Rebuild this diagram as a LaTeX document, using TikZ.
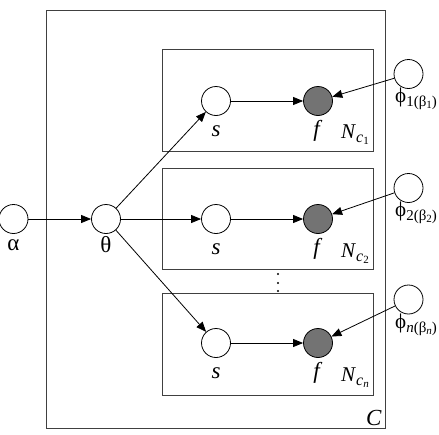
\documentclass[tikz,border=0pt]{standalone}
\usepackage{fontspec}
\setmainfont{Liberation Serif}
\usetikzlibrary{arrows.meta}
\newcommand\phlab[2]{ϕ\raisebox{-0.4ex}{\fontsize{15}{15}\selectfont #1(β\raisebox{-0.3ex}{\fontsize{11}{11}\selectfont #2})}}
\newcommand\nclab[1]{\textit{N}\raisebox{-0.4ex}{\fontsize{16}{16}\selectfont\textit{c}\raisebox{-0.3ex}{\fontsize{11}{11}\selectfont #1}}}
\begin{document}
\begin{tikzpicture}[x=1pt,y=-1pt,
  var/.style={circle,draw,line width=0.8pt,minimum size=29pt,inner sep=0pt,fill=white},
  obs/.style={var,fill=black!55},
  plate/.style={draw=black!75,line width=0.9pt},
  edge/.style={line width=0.8pt,-{Triangle[length=10pt,width=8pt]}},
  lab/.style={inner sep=0pt,font=\fontsize{23}{23}\selectfont},
  slab/.style={inner sep=0pt,font=\fontsize{21}{21}\selectfont}]
\useasboundingbox (0,0) rectangle (439,434);
% plates
\draw[plate] (46.5,10) rectangle (385.5,428);
\draw[plate] (162,49) rectangle (373,151);
\draw[plate] (162,168) rectangle (373,269);
\draw[plate] (162,293) rectangle (373,395);
% nodes
\node[var] (alpha) at (13.5,219) {};
\node[var] (theta) at (106,219) {};
\node[var] (s1) at (216,101) {};
\node[var] (s2) at (216,219) {};
\node[var] (s3) at (216,343) {};
\node[obs] (f1) at (318,101) {};
\node[obs] (f2) at (318,219) {};
\node[obs] (f3) at (318,343) {};
\node[var] (p1) at (408.5,74) {};
\node[var] (p2) at (408.5,188) {};
\node[var] (p3) at (408.5,299.5) {};
% labels
\node[lab] (la) at (13.5,245) {α};
\node[lab] (lt) at (106,245) {θ};
\node[lab] (ls1) at (216,131) {\textit{s}};
\node[lab] (ls2) at (216,249) {\textit{s}};
\node[lab] (ls3) at (216,373) {\textit{s}};
\node[lab] (lf1) at (318,131) {\textit{f}};
\node[lab] (lf2) at (318,249) {\textit{f}};
\node[lab] (lf3) at (318,373) {\textit{f}};
\node[slab,anchor=west] (ln1) at (341,135) {\nclab{1}};
\node[slab,anchor=west] (ln2) at (341,254) {\nclab{2}};
\node[slab,anchor=west] (ln3) at (341,378) {\nclab{\textit{n}}};
\node[slab,anchor=west] (lp1) at (395,99) {\phlab{1}{1}};
\node[slab,anchor=west] (lp2) at (395,213) {\phlab{2}{2}};
\node[slab,anchor=west] (lp3) at (395,325) {\phlab{\textit{n}}{\textit{n}}};
\node[lab] (lc) at (374,418) {\textit{C}};
% ellipsis
\fill (278,274) circle (1.1) (278,283) circle (1.1) (278,291) circle (1.1);
% edges
\draw[edge] (alpha) -- (theta);
\draw[edge] (theta) -- (s1);
\draw[edge] (theta) -- (s2);
\draw[edge] (theta) -- (s3);
\draw[edge] (s1) -- (f1);
\draw[edge] (s2) -- (f2);
\draw[edge] (s3) -- (f3);
\draw[edge] (p1) -- (f1);
\draw[edge] (p2) -- (f2);
\draw[edge] (p3) -- (f3);
\end{tikzpicture}
\end{document}
